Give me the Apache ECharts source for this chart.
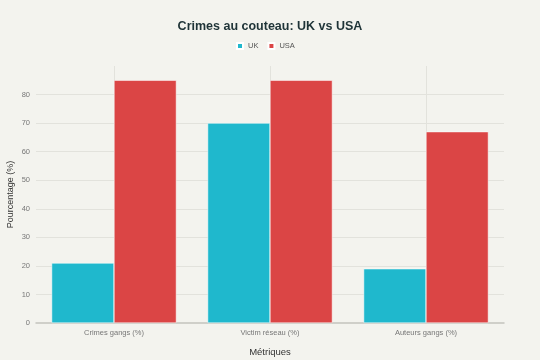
<!DOCTYPE html>
<html><head><meta charset="utf-8">
<script src="https://cdn.jsdelivr.net/npm/echarts@6/dist/echarts.min.js"></script>
<style>html,body{margin:0;padding:0;background:#f3f3ee}#c{width:540px;height:360px}</style>
</head><body><div id="c"></div>
<script>
const categories = ['Crimes gangs (%)', 'Victim réseau (%)', 'Auteurs gangs (%)'];
const ukValues = [21, 70, 19];
const usaValues = [85, 85, 67];
const yTicks = [0, 10, 20, 30, 40, 50, 60, 70, 80, 90];

const chart = echarts.init(document.getElementById('c'));
const font = '"Liberation Sans", Arial, sans-serif';
const gridColor = '#e2e2dc';
chart.setOption({
  backgroundColor: '#f3f3ee',
  animation: false,
  textStyle: { fontFamily: font },
  title: {
    text: 'Crimes au couteau: UK vs USA', left: 'center', top: 15,
    textStyle: { fontSize: 12.5, fontWeight: 'bold', color: '#1e3337', fontFamily: font }
  },
  legend: {
    top: 42, left: 236, padding: 0, itemWidth: 6, itemHeight: 6, itemGap: 9,
    icon: 'rect',
    textStyle: { fontSize: 7.5, color: '#555', fontFamily: font },
    data: ['UK', 'USA']
  },
  grid: { left: 36, right: 36, top: 66, bottom: 37, containLabel: false, outerBoundsMode: 'none' },
  xAxis: [{
    type: 'category', data: categories,
    name: 'Métriques', nameLocation: 'middle', nameGap: 24, nameMoveOverlap: false,
    nameTextStyle: { fontSize: 9.5, color: '#333' },
    axisLine: { show: true, lineStyle: { color: '#c4c4bd', width: 1.5 } },
    axisTick: { show: false },
    axisLabel: { fontSize: 7.5, color: '#777', margin: 6 },
    splitLine: { show: false }
  }, {
    type: 'value', min: 0, max: 6, interval: 1, position: 'bottom',
    axisLine: { show: false }, axisTick: { show: false }, axisLabel: { show: false },
    splitLine: { show: true, lineStyle: { color: ['transparent', gridColor], width: 1 } }
  }],
  yAxis: {
    type: 'value', min: yTicks[0], max: yTicks[yTicks.length - 1], interval: 10,
    name: 'Pourcentage (%)', nameLocation: 'middle', nameGap: 21, nameMoveOverlap: false,
    nameTextStyle: { fontSize: 9, color: '#333' },
    axisLine: { show: false }, axisTick: { show: false },
    axisLabel: { fontSize: 7.5, color: '#777', margin: 6,
      formatter: v => (v === 90 ? '' : String(v)) },
    splitLine: { lineStyle: { color: yTicks.map((t, i) => (i === yTicks.length - 1 || i === 0) ? 'transparent' : gridColor), width: 1 } }
  },
  series: [{
    name: 'UK', type: 'bar', data: ukValues, xAxisIndex: 0,
    barGap: '0%', barCategoryGap: '20%',
    itemStyle: { color: '#1fb8cd', borderColor: '#ffffff', borderWidth: 0.5 }
  }, {
    name: 'USA', type: 'bar', data: usaValues, xAxisIndex: 0,
    barGap: '0%', barCategoryGap: '20%',
    itemStyle: { color: '#db4545', borderColor: '#ffffff', borderWidth: 0.5 }
  }]
});
</script></body></html>
